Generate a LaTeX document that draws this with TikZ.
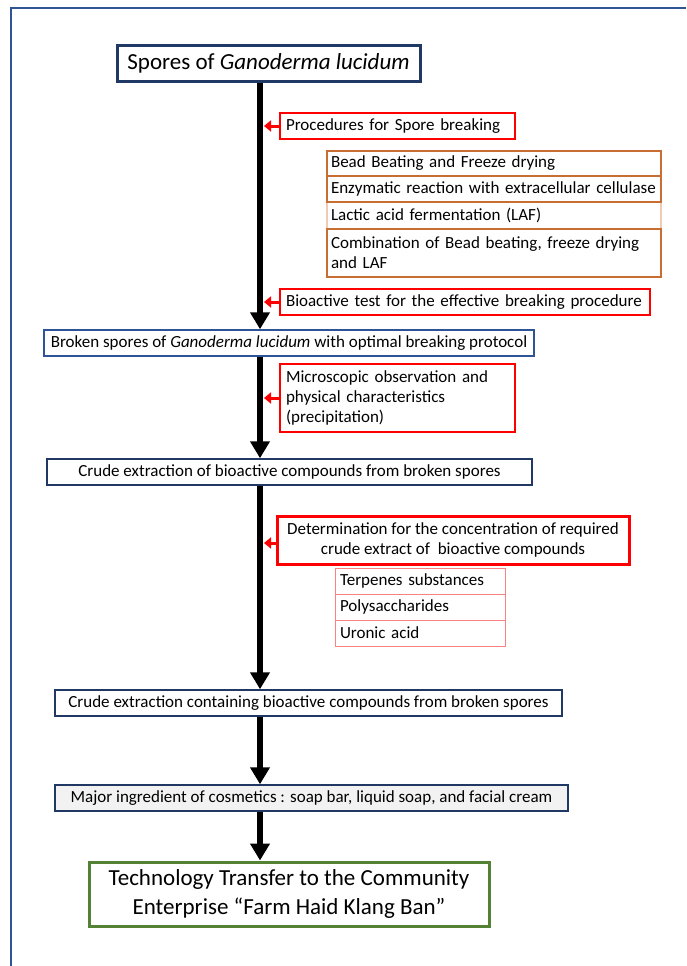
\documentclass[tikz,border=0pt]{standalone}
\usepackage{fontspec}
\setmainfont{Carlito}
\usetikzlibrary{arrows.meta}
\usepackage{xcolor}

\definecolor{navy}{RGB}{31,56,100}
\definecolor{frameblue}{RGB}{47,85,151}
\definecolor{boxblue}{RGB}{46,84,150}
\definecolor{checkred}{RGB}{255,0,0}
\definecolor{methodorange}{RGB}{200,110,50}
\definecolor{itempink}{RGB}{250,130,130}
\definecolor{finalgreen}{RGB}{84,130,53}

\tikzset{
	stage/.style={draw=navy, line width=1.5pt, inner sep=0pt, minimum height=26pt, font=\fontsize{17}{20}\selectfont},
	check/.style={draw=checkred, line width=1.8pt, inner xsep=6pt, inner ysep=2pt, align=left, font=\fontsize{17}{20}\selectfont},
	method/.style={draw=methodorange, line width=1.4pt, inner xsep=4pt, inner ysep=2pt, align=left, font=\fontsize{17}{20}\selectfont},
	item/.style={draw=itempink, line width=1pt, inner xsep=5pt, inner ysep=2pt, align=left, font=\fontsize{17}{20}\selectfont},
	flow/.style={-{Triangle[length=17pt,width=19pt]}, line width=6pt},
	hint/.style={-{Triangle[length=7pt,width=11pt]}, checkred, line width=3pt}
}

\begin{document}
\begin{tikzpicture}[x=1pt, y=-1pt]
		\useasboundingbox (0,0) rectangle (686,966);
		\draw[frameblue, line width=2.5pt] (11,966) -- (11,8) -- (686,8);

		\coordinate (axis) at (260,0);
		\coordinate (rim) at (264,0);

		% main stages
		\node[stage, line width=3pt, minimum width=303pt, minimum height=35pt, font=\fontsize{23}{27}\selectfont] (spores) at (268.5,63.5) {Spores of \textit{Ganoderma lucidum}};
		\node[stage, draw=boxblue, minimum width=490pt] (broken) at (289,343) {Broken spores of \textit{Ganoderma lucidum} with optimal breaking protocol};
		\node[stage, minimum width=485pt] (crude) at (289.5,472) {Crude extraction of bioactive compounds from broken spores};
		\node[stage, minimum width=507pt] (crudex) at (308.5,703) {Crude extraction containing bioactive compounds from broken spores};
		\node[stage, fill=black!5, minimum width=513pt] (major) at (311.5,798) {Major ingredient of cosmetics : soap bar, liquid soap, and facial cream};
		\node[stage, draw=finalgreen, line width=3pt, minimum width=400pt, minimum height=64pt, align=center, font=\fontsize{23}{29}\selectfont] (transfer) at (289,894) {Technology Transfer to the Community\\Enterprise “Farm Haid Klang Ban”};

		% checks beside the main line
		\node[check, text width=223pt, minimum height=26pt] (proc) at (397.5,126) {Procedures for Spore breaking};
		\node[check, text width=358pt, minimum height=26pt] (bioact) at (465,302) {Bioactive test for the effective breaking procedure};
		\node[check, text width=223pt, minimum height=68pt] (micro) at (397.5,398) {Microscopic observation and\\physical characteristics\\(precipitation)};
		\node[check, line width=3pt, inner sep=0pt, minimum width=352pt, minimum height=48pt, align=center] (determ) at (453,540) {Determination for the concentration of required\\crude extract of\ \ bioactive compounds};

		% breaking methods
		\node[method, draw=methodorange!35, text width=326pt, minimum height=27pt] (lactic) at (494,215.5) {Lactic acid fermentation (LAF)};
		\node[method, text width=326pt, minimum height=25pt] (bead) at (494,163.5) {Bead Beating and Freeze drying};
		\node[method, text width=326pt, minimum height=26pt] (enzym) at (494,189) {Enzymatic reaction with extracellular cellulase};
		\node[method, text width=326pt, minimum height=48pt] (combo) at (494,253) {Combination of Bead beating, freeze drying\\and LAF};

		% bioactive compounds
		\node[item, text width=160pt, minimum height=26pt] (terp) at (420,581) {Terpenes substances};
		\node[item, text width=160pt, minimum height=26pt] (poly) at (420,607) {Polysaccharides};
		\node[item, text width=160pt, minimum height=26pt] (uronic) at (420,633) {Uronic acid};

		\draw[flow] (spores.south -| axis) -- (broken.north -| axis);
		\draw[flow] (broken.south -| axis) -- (crude.north -| axis);
		\draw[flow] (crude.south -| axis) -- (crudex.north -| axis);
		\draw[flow] (crudex.south -| axis) -- (major.north -| axis);
		\draw[flow] (major.south -| axis) -- (transfer.north -| axis);

		\draw[hint] (proc.west) -- (proc.west -| rim);
		\draw[hint] (bioact.west) -- (bioact.west -| rim);
		\draw[hint] (micro.west) -- (micro.west -| rim);
		\draw[hint] ([yshift=-3pt]determ.west) -- ([yshift=-3pt]determ.west -| rim);
\end{tikzpicture}
\end{document}
